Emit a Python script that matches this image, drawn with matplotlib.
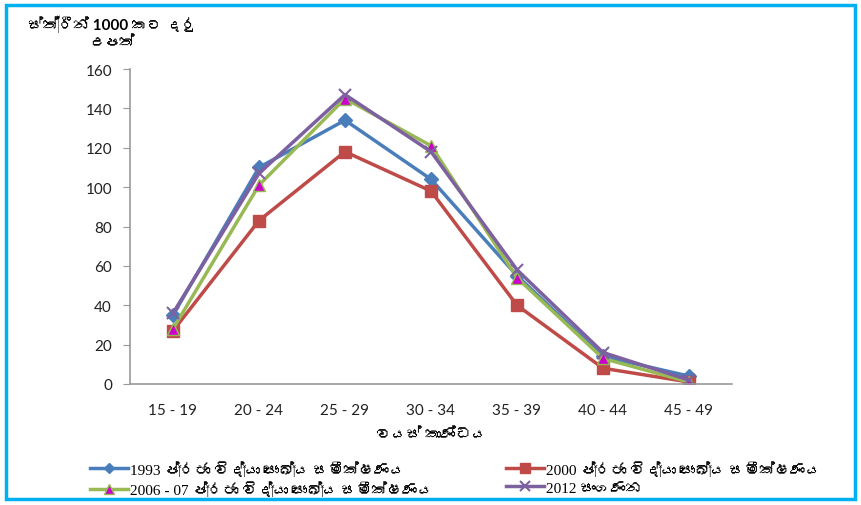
import matplotlib
matplotlib.use("Agg")
import matplotlib.pyplot as plt
from matplotlib import font_manager
from matplotlib.ft2font import FT2Font
from matplotlib.patches import Rectangle

age_groups = ["15 - 19", "20 - 24", "25 - 29", "30 - 34", "35 - 39", "40 - 44", "45 - 49"]
s1993 = [35, 110, 134, 104, 55, 14, 4]
s2000 = [27, 83, 118, 98, 40, 8, 1]
s2006 = [28, 101, 145, 121, 54, 13, 1]
s2012 = [36, 107, 147, 118, 58, 16, 2]
labels = ["1993 ප්‍රජා විද්‍යා සෞඛ්‍ය සමීක්ෂණය",
          "2000 ප්‍රජා විද්‍යා සෞඛ්‍ය සමීක්ෂණය",
          "2006 - 07 ප්‍රජා විද්‍යා සෞඛ්‍ය සමීක්ෂණය",
          "2012 සංගණන"]
ylabel_text = "ස්ත්‍රීන් 1000 කට දරු\nඋපත්"
xlabel_text = "වයස් කාණ්ඩය"
yticks = [0, 20, 40, 60, 80, 100, 120, 140, 160]

# find a font with Sinhala glyphs, if any
sin_font = None
for fe in font_manager.fontManager.ttflist:
    try:
        cm = FT2Font(fe.fname).get_charmap()
        if 0x0DC3 in cm and 0x0DCA in cm:
            sin_font = fe.name
            break
    except Exception:
        pass
extra = [sin_font] if sin_font else []
sans = ["Lato"] + extra + ["DejaVu Sans"]
serif = ["Liberation Serif"] + extra + ["DejaVu Sans"]
plt.rcParams['font.family'] = sans

fig = plt.figure(figsize=(8.62, 5.06), dpi=100)
fig.patches.append(Rectangle((6/862, 1-500/506), 849/862, 494/506, transform=fig.transFigure,
                             fill=False, edgecolor="#00B0F0", linewidth=2.5))
ax = fig.add_axes([130/862, 1-385/506, 602/862, 315/506])

x = list(range(len(age_groups)))
h1, = ax.plot(x, s1993, color="#4A7EBB", lw=2.5, marker="D", ms=7, label=labels[0])
h2, = ax.plot(x, s2000, color="#BE4B48", lw=2.5, marker="s", ms=9, label=labels[1])
h3, = ax.plot(x, s2006, color="#98B954", lw=2.5, marker="^", ms=9, mfc="#CC00CC", mec="#98B954", label=labels[2])
h4, = ax.plot(x, s2012, color="#7D60A0", lw=2.5, marker="x", ms=9, mew=1.5, label=labels[3])

ax.set_xlim(-0.5, len(age_groups) - 0.5)
ax.set_ylim(0, 160)
ax.set_yticks(yticks)
ax.set_xticks(x)
ax.set_xticklabels(age_groups)
ax.tick_params(axis="x", length=0, pad=14, labelsize=11, colors="#222222")
ax.tick_params(axis="y", length=5, color="#999999", labelsize=11, colors="#222222", pad=8)
for s in ["top", "right"]:
    ax.spines[s].set_visible(False)
for s in ["left", "bottom"]:
    ax.spines[s].set_color("#999999")
    ax.spines[s].set_linewidth(1.2)

fig.text(112/862, 1-33/506, ylabel_text, ha="center", va="center", fontsize=11,
         fontweight="bold", linespacing=1.3)
fig.text(431/862, 1-435/506, xlabel_text, ha="center", va="center", fontsize=11, fontweight="bold")

leg = fig.legend([h1, h3, h2, h4], [labels[0], labels[2], labels[1], labels[3]],
                 loc="lower left", bbox_to_anchor=(84/862, 1-504/506), ncol=2, frameon=False,
                 prop={"family": serif, "size": 11}, columnspacing=4.8, handlelength=2.5,
                 handletextpad=0.1, labelspacing=0.3, borderaxespad=0, markerscale=0.8)

fig.savefig("out.png", dpi=100)
